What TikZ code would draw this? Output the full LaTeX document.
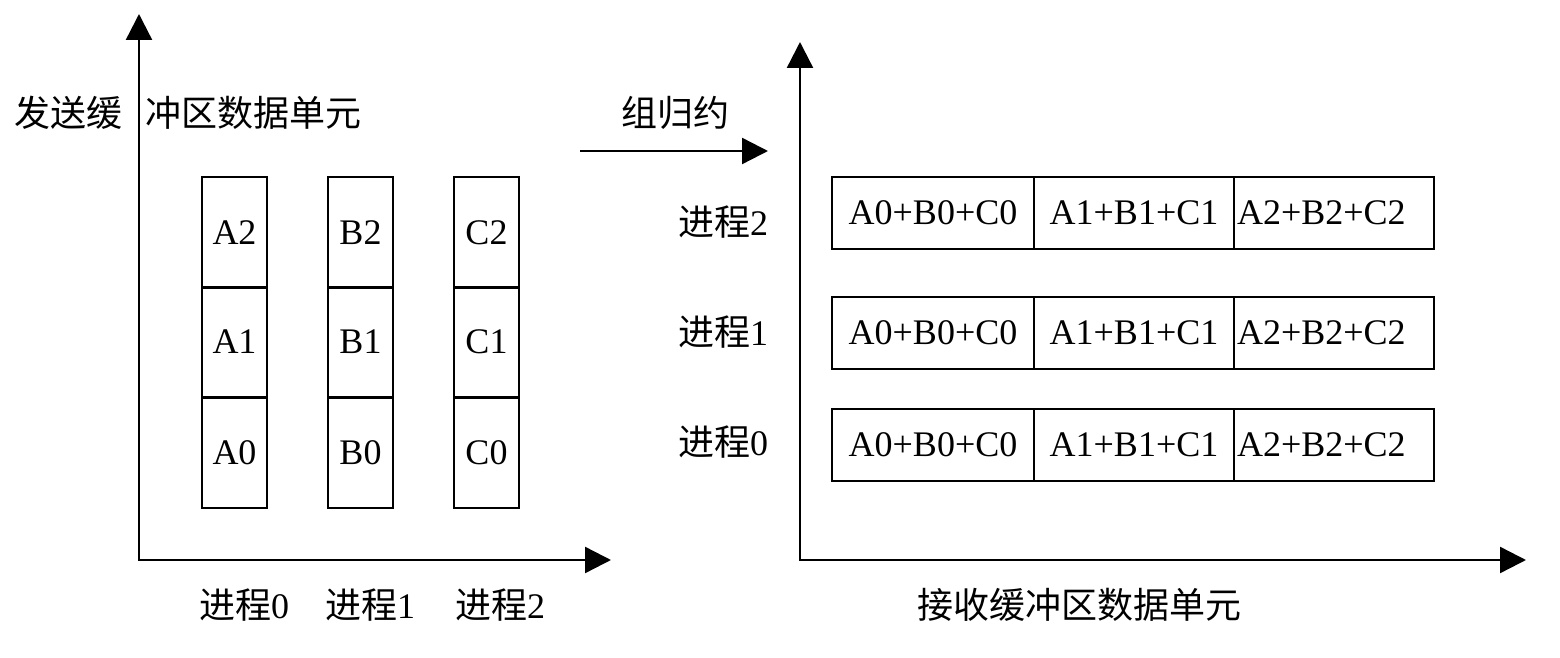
\documentclass[tikz,border=0pt]{standalone}
\usepackage{fontspec}
\setmainfont{Liberation Serif}
\newfontfamily\cjk{Noto Sans CJK SC}
\usetikzlibrary{arrows.meta}

\begin{document}
\begin{tikzpicture}[x=0.5pt, y=-0.5pt,
    every node/.style={font=\fontsize{18}{21}\selectfont},
    cell/.style={draw, line width=1pt, inner sep=0pt, minimum width=32.5pt, minimum height=55pt},
    sumcell/.style={draw, line width=1pt, inner sep=0pt, minimum width=100pt, minimum height=36pt},
    lastcell/.style={sumcell, text width=100pt, align=left},
    axis/.style={line width=1.2pt, {Triangle[length=13pt,width=13pt]}-{Triangle[length=13pt,width=13pt]}}]

\useasboundingbox (0,0) rectangle (1560,658);

% Axes (send side)
\coordinate (so) at (139,560);
\coordinate (sy) at (139,14);
\coordinate (sx) at (611,560);
\draw[axis] (sy) -- (so) -- (sx);
\node (sendlbl) at (188,113) {\cjk 发送缓\hspace{12pt}冲区数据单元};

% Send buffers
\node[cell] (a2) at (234.5,232.5) {A2};
\node[cell] (a1) at (234.5,342) {A1};
\node[cell] (a0) at (234.5,452.5) {A0};
\node[cell] (b2) at (360.5,232.5) {B2};
\node[cell] (b1) at (360.5,342) {B1};
\node[cell] (b0) at (360.5,452.5) {B0};
\node[cell] (c2) at (486.5,232.5) {C2};
\node[cell] (c1) at (486.5,342) {C1};
\node[cell] (c0) at (486.5,452.5) {C0};

\node (sp0) at (244,605) {{\cjk 进程}0};
\node (sp1) at (370,605) {{\cjk 进程}1};
\node (sp2) at (500,605) {{\cjk 进程}2};

% Reduce arrow
\coordinate (ra) at (580,151);
\coordinate (rb) at (768,151);
\draw[line width=1.2pt, -{Triangle[length=13pt,width=13pt]}] (ra) -- (rb);
\node (redlbl) at (675,113) {\cjk 组归约};

% Axes (receive side)
\coordinate (ro) at (800,560);
\coordinate (ry) at (800,42);
\coordinate (rx) at (1526,560);
\draw[axis] (ry) -- (ro) -- (rx);
\node (recvlbl) at (1079,605) {\cjk 接收缓冲区数据单元};

% Receive buffers
\node[sumcell, minimum width=101pt] (p2s0) at (933,213) {A0+B0+C0};
\node[sumcell] (p2s1) at (1134,213) {A1+B1+C1};
\node[lastcell] (p2s2) at (1334,213) {\hspace{1.5pt}A2+B2+C2};
\node[sumcell, minimum width=101pt] (p1s0) at (933,333) {A0+B0+C0};
\node[sumcell] (p1s1) at (1134,333) {A1+B1+C1};
\node[lastcell] (p1s2) at (1334,333) {\hspace{1.5pt}A2+B2+C2};
\node[sumcell, minimum width=101pt] (p0s0) at (933,444.5) {A0+B0+C0};
\node[sumcell] (p0s1) at (1134,444.5) {A1+B1+C1};
\node[lastcell] (p0s2) at (1334,444.5) {\hspace{1.5pt}A2+B2+C2};

\node (rp2) at (723,222) {{\cjk 进程}2};
\node (rp1) at (723,332) {{\cjk 进程}1};
\node (rp0) at (723,442) {{\cjk 进程}0};

\end{tikzpicture}
\end{document}
